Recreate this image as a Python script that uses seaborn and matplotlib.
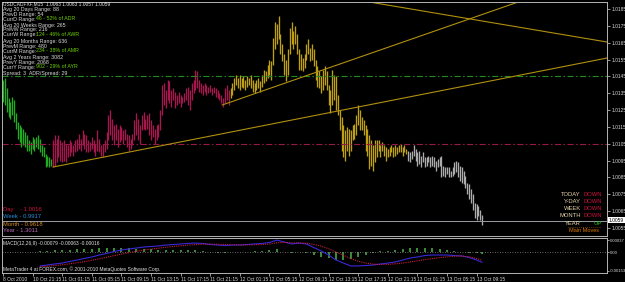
import numpy as np
import pandas as pd
import matplotlib
matplotlib.use("Agg")
import matplotlib.pyplot as plt
import seaborn as sns

# ---- price bars (M15), highs / lows in pips above 1.0000, one list per trading day ----
day_high = [
    [143, 144, 138, 132, 130, 133, 131, 123, 118, 116, 115, 114, 112, 110, 107, 106, 109, 108, 109, 110,
     108, 104, 103, 99, 98, 97, 96],
    [107, 110, 108, 110, 107, 106, 107, 105, 104, 107, 106, 104, 107, 108, 111, 108, 113, 111, 110, 107,
     106, 109, 107, 105, 113, 108, 104, 105, 107, 112, 122, 125, 120, 116, 117, 114, 116, 115, 113, 114,
     111, 110, 108, 111, 119, 123, 120, 116, 122, 124, 120, 122, 123, 119, 116, 114, 116, 117, 125, 140,
     141, 137, 143, 142, 137, 138, 136, 134, 136, 134, 133, 135, 138, 139, 137, 141, 143, 149, 148, 143,
     141, 140, 141, 140, 139, 140, 138, 139, 138, 137, 135, 134, 132, 138, 140, 137],
    [138, 141, 144, 146, 144, 146, 144, 145, 143, 145, 144, 146, 143, 141, 143, 144, 142, 146, 149, 148,
     152, 155, 154, 168, 177, 176, 181, 170, 164, 158, 155, 161, 174, 177, 172, 175, 170, 161, 158, 156,
     158, 164, 167, 162, 164, 161, 155, 151, 148, 145, 149, 151, 148, 140, 137, 149, 146, 145, 134, 125,
     121, 116, 113, 115, 114, 113, 116, 117, 122, 128, 125, 121, 119, 116, 114, 110, 107, 104, 107, 107,
     107, 104, 106, 104, 103, 102, 103, 104, 103, 104, 103, 104, 105, 103, 104, 102],
    [101, 100, 101, 104, 102, 100, 101, 98, 100, 97, 97, 98, 97, 98, 97, 95, 96, 97, 98, 92,
     91, 91, 91, 89, 91, 94, 95, 94, 92, 91, 89, 86, 82, 81, 78, 75, 70, 69, 68, 66, 63],
]
day_low = [
    [130, 128, 124, 121, 120, 122, 118, 114, 108, 106, 103, 104, 103, 101, 101, 99, 102, 101, 103, 102,
     100, 98, 97, 91, 92, 91, 92],
    [91, 92, 94, 97, 95, 94, 95, 94, 97, 98, 100, 98, 100, 101, 102, 101, 104, 102, 100, 100,
     101, 102, 100, 98, 101, 100, 98, 97, 100, 102, 107, 110, 107, 104, 107, 103, 106, 107, 105, 107,
     103, 101, 102, 104, 107, 110, 107, 105, 113, 114, 113, 114, 110, 107, 109, 105, 107, 109, 113, 122,
     128, 126, 131, 129, 127, 131, 126, 128, 129, 127, 129, 130, 131, 128, 125, 131, 135, 137, 138, 136,
     135, 134, 136, 134, 135, 136, 134, 135, 133, 132, 131, 129, 127, 129, 131, 128],
    [132, 134, 137, 140, 138, 137, 139, 138, 137, 139, 140, 138, 136, 135, 137, 138, 136, 139, 141, 142,
     144, 146, 143, 152, 161, 164, 167, 158, 154, 146, 142, 146, 158, 164, 161, 164, 158, 149, 149, 148,
     150, 155, 158, 154, 155, 151, 143, 139, 138, 135, 137, 140, 137, 128, 123, 128, 131, 125, 122, 113,
     101, 97, 95, 101, 98, 101, 107, 108, 110, 116, 113, 113, 110, 101, 98, 90, 92, 89, 94, 97,
     101, 97, 101, 98, 95, 97, 98, 100, 97, 98, 99, 100, 100, 98, 100, 99],
    [95, 94, 96, 98, 95, 92, 93, 91, 94, 91, 92, 94, 91, 92, 91, 89, 91, 92, 85, 86,
     85, 87, 85, 85, 86, 87, 88, 85, 83, 82, 81, 79, 75, 72, 70, 66, 61, 60, 62, 60, 57],
]
day_colors = ["#1FAE1F", "#A8164E", "#BFA014", "#ACACAC"]

# trend lines: two anchor points (bar, price) each, drawn as rays
trend_lines = [((27.0, 1.00912), (326.5, 1.01559)),
               ((118.4, 1.01280), (193.0, 1.01565)),
               ((197.8, 1.01892), (326.5, 1.01654))]
level_green = 1.0145
level_red = 1.0105
last_price = 1.0059

# ---- MACD(12,26,9), sampled every 4 bars, x1e-5 ----
macd_bar = list(range(20, 257, 4)) + [259]
macd_main = [-106, -99, -91, -84, -72, -61, -49, -38, -23, -11,
             4, 15, 23, 30, 38, 42, 46, 53, 57, 61,
             65, 68, 65, 57, 53, 49, 53, 53, 57, 61,
             65, 72, 91, 76, 61, 68, 61, 34, 8, -23,
             -61, -84, -106, -106, -103, -99, -91, -84, -76, -61,
             -46, -38, -27, -23, -23, -23, -27, -30, -42, -61, -79]
macd_signal = [-112, -108, -103, -97, -90, -82, -73, -63, -52, -40,
               -28, -16, -5, 5, 14, 22, 29, 36, 42, 47,
               52, 56, 59, 60, 59, 57, 55, 54, 54, 55,
               57, 60, 70, 73, 70, 69, 67, 58, 45, 25,
               0, -25, -50, -70, -84, -92, -95, -94, -90, -84,
               -76, -67, -58, -50, -43, -37, -32, -31, -36, -50, -63]

date_bar = list(range(0, 257, 16))
date_labels = ["8 Oct 2010", "10 Oct 21:15", "11 Oct 01:15", "11 Oct 05:15", "11 Oct 09:15",
               "11 Oct 13:15", "11 Oct 17:15", "11 Oct 21:15", "12 Oct 01:15", "12 Oct 05:15",
               "12 Oct 09:15", "12 Oct 13:15", "12 Oct 17:15", "12 Oct 21:15", "13 Oct 01:15",
               "13 Oct 05:15", "13 Oct 09:15"]

sns.set_theme(style="dark", rc={"axes.facecolor": "black", "figure.facecolor": "black"})
plt.rcParams["font.family"] = ["Liberation Sans", "DejaVu Sans"]

W, H = 625, 282
fig = plt.figure(figsize=(W / 100, H / 100), dpi=100)
fig.patch.set_facecolor("black")


def fx(x):
    return x / W


def fy(y):
    return 1 - y / H


def put(x, y, s, color, size=3.8, ha="left"):
    fig.text(fx(x), fy(y), s, color=color, fontsize=size, ha=ha, va="center")


ax = fig.add_axes([fx(2), fy(236), fx(607) - fx(2), fy(2) - fy(236)])
mx = fig.add_axes([fx(2), fy(273), fx(607) - fx(2), fy(238) - fy(273)])
XL = (-0.54, 326.5)

# price bars
rows = []
start = 0
for d, (hs, ls) in enumerate(zip(day_high, day_low)):
    for k, (h, l) in enumerate(zip(hs, ls)):
        rows.append((start + k, 1 + h / 1e4, 1 + l / 1e4, d))
    start += len(hs)
bars = pd.DataFrame(rows, columns=["bar", "high", "low", "day"])
for d, grp in bars.groupby("day"):
    ax.vlines(grp["bar"], grp["low"], grp["high"], colors=day_colors[d], lw=0.95)

dashdot = (0, (5.5, 2.2, 1.4, 2.2))
ax.axhline(level_green, color="#1E8C1E", lw=0.8, ls=dashdot)
ax.axhline(level_red, color="#9A1848", lw=0.8, ls=dashdot)
ax.axhline(last_price, color="#9C9CA4", lw=0.7)

for (x0, y0), (x1, y1) in trend_lines:
    slope = (y1 - y0) / (x1 - x0)
    xs = [x0, XL[1]]
    sns.lineplot(x=xs, y=[y0, y0 + slope * (XL[1] - x0)], ax=ax, color="#B0900E", lw=0.8)

ax.set_xlim(*XL)
ax.set_ylim(1.005028, 1.018915)
ax.set_xticks([])
ax.yaxis.tick_right()
yt = np.arange(1.0055, 1.01851, 0.001)
ax.set_yticks(yt)
ax.set_yticklabels([f"{v:.4f}" for v in yt])

# MACD panel
macd = pd.DataFrame({"bar": macd_bar,
                     "main": np.array(macd_main) / 1e5,
                     "signal": np.array(macd_signal) / 1e5})
macd["hist"] = macd["main"] - macd["signal"]
mx.bar(macd["bar"], macd["hist"], width=1.1, color="#3A8A3A", edgecolor="none", linewidth=0)
mx.axhline(0, color="#8C8C8C", lw=0.6, ls=(0, (1, 2)))
sns.lineplot(data=macd, x="bar", y="main", ax=mx, color="#3A28D8", lw=0.8)
sns.lineplot(data=macd, x="bar", y="signal", ax=mx, color="#C81E3C", lw=0.8, ls=(0, (1, 1)))
mx.set_xlim(*XL)
mx.set_ylim(-0.001596, 0.001064)
mx.yaxis.tick_right()
mx.set_yticks([0.000912, 0, -0.001444])
mx.set_yticklabels(["0.00037", "0.00", "-0.00153"])
mx.set_xticks(date_bar)
mx.set_xticklabels(date_labels, ha="left")
mx.set_xlabel("")
mx.set_ylabel("")
ax.set_ylabel("")

for a in (ax, mx):
    a.set_facecolor("black")
    a.grid(False)
    for s in a.spines.values():
        s.set_color("#B4B4B4")
        s.set_linewidth(0.7)
    a.tick_params(axis="y", colors="#D8D8D8", labelsize=3.5, length=2, width=0.5, pad=1, right=True, left=False)
mx.tick_params(axis="y", labelsize=3.1, length=1.5, pad=0.5)
mx.tick_params(axis="x", colors="#D8D8D8", labelsize=3.5, length=2, width=0.5, pad=0.8, bottom=True)

# price tag
fig.text(fx(609), fy(220), "1.0059", fontsize=3.5, color="black", va="center",
         bbox=dict(boxstyle="square,pad=0.15", fc="white", ec="none"))

# info block top-left
info_white = "#D8D8D8"
info_green = "#6CD000"
put(3, 4, "USDCADFXF,M15  1.0063 1.0063 1.0057 1.0059", "#E8E8E8", 3.5)
info_rows = [(9.5, "Avg 20 Days Range: 88", None), (14.5, "PrevD Range: 54", None),
             (19, "CurrD Range: ", "46 - 52% of ADR"),
             (25, "Avg 20 Weeks Range: 265", None), (29.5, "PrevW Range: 216", None),
             (34.5, "CurrW Range: ", "124 - 46% of AWR"),
             (42, "Avg 20 Months Range: 636", None), (46.5, "PrevM Range: 480", None),
             (51, "CurrM Range: ", "234 - 38% of AMR"),
             (58, "Avg 2 Years Range: 3082", None), (62.5, "PrevY Range: 2068", None),
             (67, "CurrY Range: ", "902 - 29% of AYR"),
             (73, "Spread: 3  ADR/Spread: 29", None)]
for y, lab, val in info_rows:
    put(3, y, lab, info_white)
    if val:
        put(36, y, val, info_green)

# day / week / month / year opens
put(3, 210, "Day    - 1.0016", "#D0143C", 4.2)
put(3, 217, "Week - 0.9917", "#2A8AD8", 4.2)
put(3, 224, "Month - 0.9618", "#D08A1E", 4.2)
put(3, 231, "Year - 1.3011", "#B868B8", 4.2)

# main moves
moves = [("TODAY", "DOWN"), ("Y-DAY", "DOWN"), ("WEEK", "DOWN"), ("MONTH", "DOWN"), ("YEAR", "UP")]
for k, (lab, mv) in enumerate(moves):
    y = 194 + k * 7.3
    put(581, y, lab, "#E4D2A8", 4.2, ha="right")
    if mv == "DOWN":
        put(584, y, mv, "#C8103A", 4.2)
    else:
        put(594, y, mv, "#1EC01E", 4.2)
fig.add_artist(plt.Line2D([fx(568), fx(600)], [fy(227), fy(227)], color="#C87000", lw=0.5, ls=(0, (1, 2))))
put(569, 231, "Main Moves", "#E07800", 4.0)

put(3, 243, "MACD(12,26,9) -0.00079 -0.00063 -0.00016", "#E0E0E0", 3.5)
put(3, 269, "MetaTrader 4 at FOREX.com, \u00a9 2001-2010 MetaQuotes Software Corp.", "#E0E0E0", 3.5)

fig.savefig("out.png", dpi=100, facecolor="black")
